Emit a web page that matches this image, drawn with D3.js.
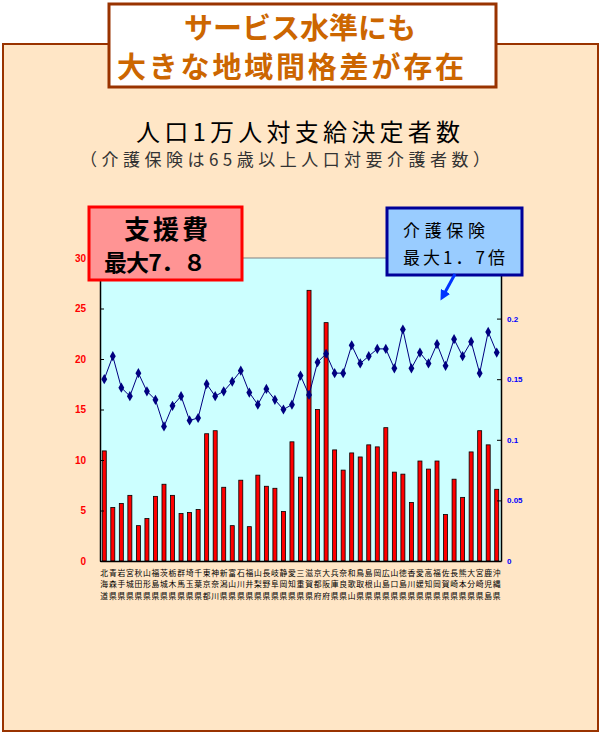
<!DOCTYPE html>
<html>
<head>
<meta charset="utf-8">
<script src="https://cdn.jsdelivr.net/npm/d3@7"></script>
<style>
  body { margin: 0; background: #fff; }
  svg { display: block; }
</style>
</head>
<body>
<script>
// prefecture labels (as printed under the axis)
const prefs = ['北海道','青森県','岩手県','宮城県','秋田県','山形県','福島県','茨城県','栃木県','群馬県',
  '埼玉県','千葉県','東京都','神奈川','新潟県','富山県','石川県','福井県','山梨県','長野県',
  '岐阜県','静岡県','愛知県','三重県','滋賀県','京都府','大阪府','兵庫県','奈良県','和歌山',
  '鳥取県','島根県','岡山県','広島県','山口県','徳島県','香川県','愛媛県','高知県','福岡県',
  '佐賀県','長崎県','熊本県','大分県','宮崎県','鹿児島','沖縄県'];

// 支援費: people per 10,000 (left axis)
const shienhi = [10.9, 5.3, 5.7, 6.5, 3.5, 4.2, 6.4, 7.6, 6.5, 4.7,
  4.8, 5.1, 12.6, 12.9, 7.3, 3.5, 8.0, 3.4, 8.5, 7.4,
  7.2, 4.9, 11.8, 8.3, 26.8, 15.0, 23.6, 11.0, 9.0, 10.7,
  10.3, 11.5, 11.3, 13.2, 8.8, 8.6, 5.8, 9.9, 9.1, 9.9,
  4.6, 8.1, 6.3, 10.8, 12.9, 11.5, 7.1];

// 介護保険: ratio (right axis)
const kaigo = [0.150, 0.169, 0.143, 0.136, 0.155, 0.140, 0.133, 0.111, 0.128, 0.136,
  0.116, 0.118, 0.146, 0.136, 0.140, 0.148, 0.157, 0.139, 0.129, 0.142,
  0.133, 0.125, 0.129, 0.153, 0.137, 0.164, 0.171, 0.155, 0.155, 0.178,
  0.163, 0.169, 0.175, 0.175, 0.159, 0.191, 0.159, 0.172, 0.163, 0.179,
  0.161, 0.183, 0.169, 0.181, 0.155, 0.189, 0.172];

const leftTicks = [0, 5, 10, 15, 20, 25, 30];
const rightTicks = [0, 0.05, 0.1, 0.15, 0.2];

const W = 601, H = 736;
const plot = {left: 100, right: 501, top: 258, bottom: 561};
const jp = '"Noto Sans CJK JP", sans-serif';

const svg = d3.select('body').append('svg')
  .attr('width', W)
  .attr('height', H);

// peach panel
svg.append('rect')
  .attr('x', 3).attr('y', 44).attr('width', 595).attr('height', 687)
  .attr('fill', '#FFE6C6').attr('stroke', '#993300').attr('stroke-width', 2);

// headline box
svg.append('rect')
  .attr('x', 109).attr('y', 4).attr('width', 387).attr('height', 83)
  .attr('fill', '#fff').attr('stroke', '#993300').attr('stroke-width', 3);

const head = svg.append('g')
  .attr('font-family', jp).attr('font-weight', 'bold')
  .attr('fill', '#CC6600').attr('font-size', 29);
head.append('text').attr('x', 300).attr('y', 39).attr('text-anchor', 'middle').text('サービス水準にも');
head.append('text').attr('x', 117).attr('y', 78).attr('textLength', 347).text('大きな地域間格差が存在');

// chart titles
svg.append('text')
  .attr('x', 136).attr('y', 141)
  .attr('font-family', jp).attr('font-size', 24)
  .attr('textLength', 324).attr('lengthAdjust', 'spacing')
  .attr('fill', '#000').text('人口1万人対支給決定者数');
svg.append('text')
  .attr('x', 80).attr('y', 166)
  .attr('font-family', jp).attr('font-size', 17)
  .attr('textLength', 410).attr('lengthAdjust', 'spacing')
  .attr('fill', '#333').text('（介護保険は65歳以上人口対要介護者数）');

// scales
const x = d3.scaleBand().domain(prefs).range([plot.left, plot.right]).padding(0);
const yL = d3.scaleLinear().domain([0, 30]).range([plot.bottom, plot.top]);
const yR = d3.scaleLinear().domain([0, 0.25]).range([plot.bottom, plot.top]);

// plot area
svg.append('rect')
  .attr('x', plot.left).attr('y', plot.top)
  .attr('width', plot.right - plot.left).attr('height', plot.bottom - plot.top)
  .attr('fill', '#CCFFFF');
svg.append('line')
  .attr('x1', plot.left).attr('x2', plot.right)
  .attr('y1', plot.top).attr('y2', plot.top)
  .attr('stroke', '#808080');

// bars
const barW = 4;
svg.append('g').selectAll('rect')
  .data(shienhi)
  .join('rect')
  .attr('x', (d, i) => x(prefs[i]) + x.bandwidth() / 2 - barW / 2)
  .attr('y', d => yL(d))
  .attr('width', barW)
  .attr('height', d => yL(0) - yL(d))
  .attr('fill', '#FF0000')
  .attr('stroke', '#000')
  .attr('stroke-width', 0.8);

// line + diamonds
const line = d3.line()
  .x((d, i) => x(prefs[i]) + x.bandwidth() / 2)
  .y(d => yR(d));
svg.append('path')
  .datum(kaigo)
  .attr('d', line)
  .attr('fill', 'none')
  .attr('stroke', '#000080')
  .attr('stroke-width', 1);
svg.append('g').selectAll('path')
  .data(kaigo)
  .join('path')
  .attr('transform', (d, i) => `translate(${x(prefs[i]) + x.bandwidth() / 2},${yR(d)})`)
  .attr('d', d3.symbol(d3.symbolDiamond, 30))
  .attr('fill', '#000080');

// axes
const axL = svg.append('g')
  .attr('transform', `translate(${plot.left},0)`)
  .call(d3.axisLeft(yL).tickValues(leftTicks).tickSizeInner(-4).tickSizeOuter(0).tickPadding(14));
axL.select('.domain').attr('stroke', '#000').attr('stroke-width', 1.5);
axL.selectAll('text')
  .attr('fill', '#FF0000').attr('font-family', '"Liberation Sans", Arial, sans-serif')
  .attr('font-weight', 'bold').attr('font-size', 10);

const axR = svg.append('g')
  .attr('transform', `translate(${plot.right},0)`)
  .call(d3.axisRight(yR).tickValues(rightTicks).tickSizeInner(-4).tickSizeOuter(0).tickPadding(6)
    .tickFormat(d => d === 0 ? '0' : String(d)));
axR.select('.domain').attr('stroke', '#000').attr('stroke-width', 1.5);
axR.selectAll('text')
  .attr('fill', '#0000FF').attr('font-family', '"Liberation Sans", Arial, sans-serif')
  .attr('font-weight', 'bold').attr('font-size', 8);

const axB = svg.append('g')
  .attr('transform', `translate(0,${plot.bottom})`)
  .call(d3.axisBottom(x).tickSize(0).tickFormat(''));
axB.select('.domain').attr('stroke', '#000').attr('stroke-width', 1.5);

// vertical prefecture labels, one character per row
const lab = svg.append('g')
  .attr('font-family', jp).attr('font-size', 7.8).attr('fill', '#000')
  .attr('text-anchor', 'middle');
prefs.forEach(p => {
  const cx = x(p) + x.bandwidth() / 2;
  Array.from(p).forEach((ch, k) => {
    lab.append('text')
      .attr('x', cx).attr('y', plot.bottom + 15 + k * 11.4)
      .text(ch);
  });
});

// callout: 支援費
svg.append('rect')
  .attr('x', 89).attr('y', 207).attr('width', 153).attr('height', 73)
  .attr('fill', '#FF9494').attr('stroke', '#FF0000').attr('stroke-width', 3);
const c1 = svg.append('g').attr('font-family', jp).attr('font-weight', 'bold')
  .attr('fill', '#000');
c1.append('text').attr('x', 124).attr('y', 239).attr('font-size', 26).attr('textLength', 84).text('支援費');
c1.append('text').attr('x', 104).attr('y', 271).attr('font-size', 23).attr('textLength', 102).text('最大7．８');

// callout: 介護保険
svg.append('rect')
  .attr('x', 387).attr('y', 208).attr('width', 135).attr('height', 67)
  .attr('fill', '#99CCFF').attr('stroke', '#000099').attr('stroke-width', 3);
const c2 = svg.append('g').attr('font-family', jp)
  .attr('font-size', 17).attr('fill', '#000');
c2.append('text').attr('x', 403).attr('y', 237).attr('textLength', 82).text('介護保険');
c2.append('text').attr('x', 403).attr('y', 264).attr('textLength', 102).text('最大1．7倍');

// arrow
svg.append('defs').append('marker')
  .attr('id', 'ah').attr('viewBox', '0 0 10 10')
  .attr('refX', 5).attr('refY', 5)
  .attr('markerWidth', 3.5).attr('markerHeight', 3.5)
  .attr('orient', 'auto')
  .append('path').attr('d', 'M0,0L10,5L0,10Z').attr('fill', '#0033FF');
svg.append('line')
  .attr('x1', 455).attr('y1', 274).attr('x2', 443).attr('y2', 296)
  .attr('stroke', '#0033FF').attr('stroke-width', 3)
  .attr('marker-end', 'url(#ah)');
</script>
</body>
</html>
